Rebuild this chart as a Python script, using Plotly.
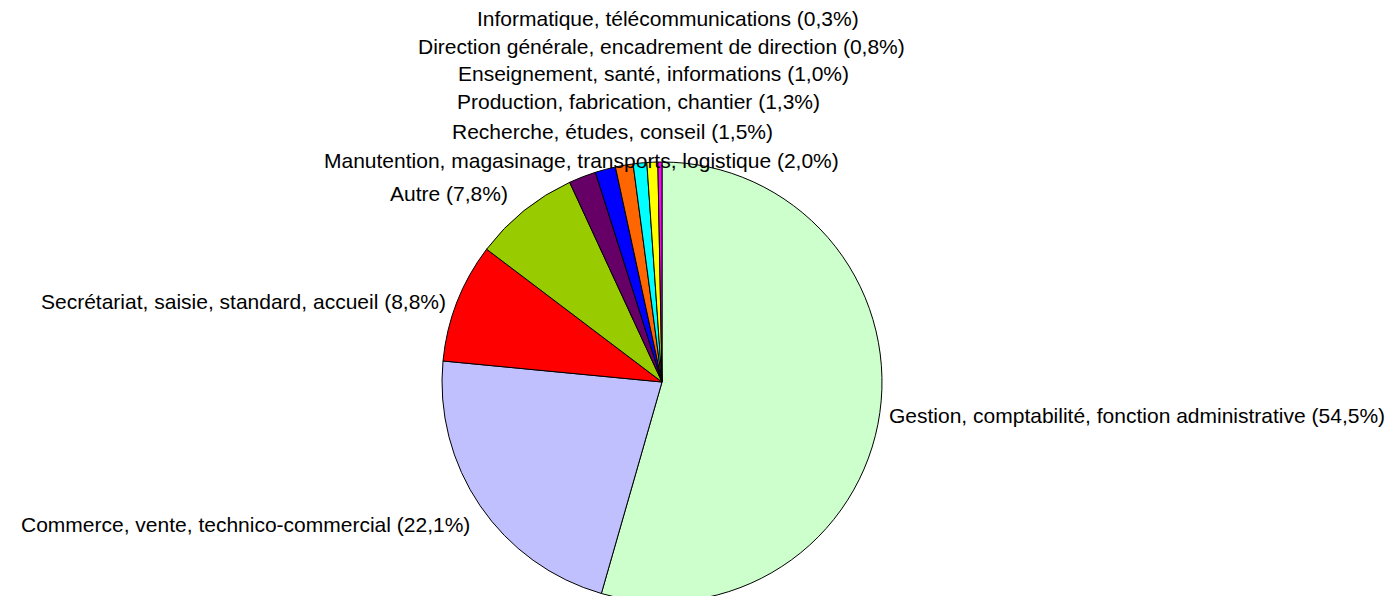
import plotly.graph_objects as go

categories = [
    "Gestion, comptabilité, fonction administrative",
    "Commerce, vente, technico-commercial",
    "Secrétariat, saisie, standard, accueil",
    "Autre",
    "Manutention, magasinage, transports, logistique",
    "Recherche, études, conseil",
    "Production, fabrication, chantier",
    "Enseignement, santé, informations",
    "Direction générale, encadrement de direction",
    "Informatique, télécommunications",
]
values = [54.5, 22.1, 8.8, 7.8, 2.0, 1.5, 1.3, 1.0, 0.8, 0.3]
colors = ["#CCFFCC", "#C0C0FF", "#FF0000", "#99CC00", "#660066",
          "#0000FF", "#FF6600", "#00FFFF", "#FFFF00", "#FF00FF"]

W, H = 1398, 604
cx, cy, r = 662, 382, 220

# label layout positions (pixels: x, y, anchor)
label_pos = [
    (887, 415, "left"),
    (472, 524, "right"),
    (448, 301, "right"),
    (510, 193, "right"),
    (581, 160, "center"),
    (612, 131, "center"),
    (638, 102, "center"),
    (653, 74, "center"),
    (661, 46, "center"),
    (668, 18, "center"),
]

fig = go.Figure(go.Pie(
    labels=categories,
    values=values,
    sort=False,
    direction="clockwise",
    rotation=0,
    textinfo="none",
    hoverinfo="label+percent",
    marker=dict(colors=colors, line=dict(color="#000000", width=1)),
    domain=dict(x=[(cx - r) / W, (cx + r) / W], y=[(H - cy - r) / H, (H - cy + r) / H]),
    showlegend=False,
))

annotations = []
for cat, v, (x, y, anc) in zip(categories, values, label_pos):
    pct = f"{v:.1f}".replace(".", ",")
    annotations.append(dict(
        x=x / W, y=1 - y / H, xref="paper", yref="paper",
        text=f"{cat} ({pct}%)",
        showarrow=False,
        xanchor=anc, yanchor="middle",
        font=dict(family="Liberation Sans, Arial, sans-serif", size=21, color="#000000"),
    ))

fig.update_layout(
    width=W, height=H,
    margin=dict(l=0, r=0, t=0, b=0),
    paper_bgcolor="#FFFFFF",
    plot_bgcolor="#FFFFFF",
    annotations=annotations,
)

fig.write_html(
    "out.html",
    config={"displayModeBar": False},
    post_script="document.body.style.margin='0';document.body.style.padding='0';"
                "document.body.style.overflow='hidden';document.documentElement.style.overflow='hidden';",
)
